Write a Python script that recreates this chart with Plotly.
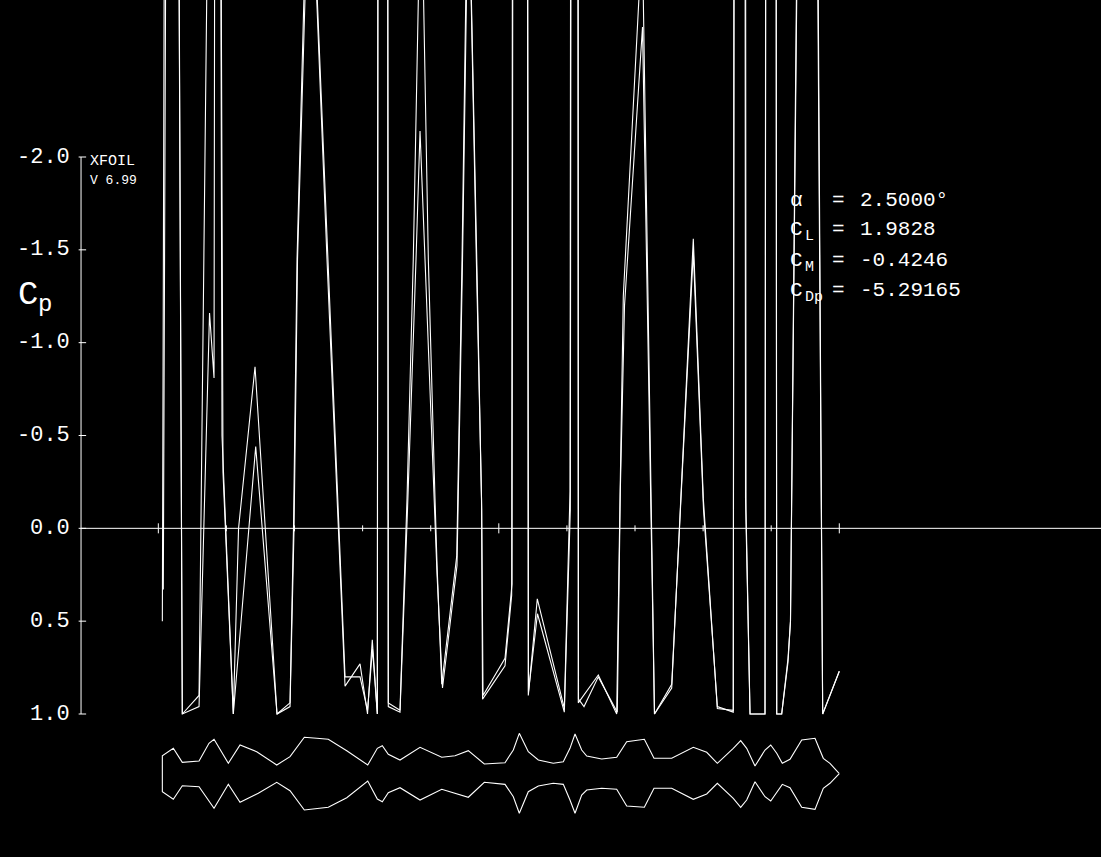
import plotly.graph_objects as go

# ---------------- data ----------------
# Cp distribution, surface 1 (x/c, Cp)
cp1_x = [0.0059, 0.0172, 0.0352, 0.0598, 0.0745, 0.0833, 0.0950, 0.1101, 0.1178, 0.1420,
         0.1743, 0.1934, 0.1985, 0.2037, 0.2213, 0.2477, 0.2742, 0.2962, 0.3072, 0.3142,
         0.3216, 0.3292, 0.3377, 0.3549, 0.3652, 0.3744, 0.3858, 0.3965, 0.4063, 0.4093,
         0.4162, 0.4382, 0.4460, 0.4548, 0.4670, 0.4746, 0.4761, 0.5091, 0.5189, 0.5311,
         0.5433, 0.5565, 0.5962, 0.6046, 0.6126, 0.6167, 0.6461, 0.6731, 0.6780, 0.6828,
         0.7107, 0.7286, 0.7539, 0.7856, 0.8003, 0.8209, 0.8443, 0.8542, 0.8623, 0.8689,
         0.8791, 0.8909, 0.8997, 0.9081, 0.9154, 0.9247, 0.9283, 0.9555, 0.9756, 1.0000]
cp1_v = [0.50, -14, 1.00, 0.90, -4.0, -12, -0.3, 1.00, 0.0, -0.87,
         1.00, 0.94, 0.0, -1.45, -3.9, -1.45, 0.85, 0.73, 1.00, 0.60,
         1.00, -40, 0.94, 0.98, -0.16, -1.45, -3.6, -1.45, -0.16, 0.20,
         0.84, 0.15, -1.45, -3.7, -1.45, -0.16, 0.92, 0.74, 0.36, -40,
         0.90, 0.38, 0.97, -0.2, -30, 0.94, 0.79, 1.00, -0.16, -1.25,
         -3.2, 1.00, 0.86, -1.56, -0.16, 0.97, 0.98, -40, -0.16, 1.00,
         1.00, 1.00, -40, 1.00, 1.00, 0.70, 0.50, -10, 1.00, 0.77]

# Cp distribution, surface 2 (x/c, Cp)
cp2_x = [0.0073, 0.0201, 0.0352, 0.0598, 0.0752, 0.0818, 0.0862, 0.0935, 0.1101, 0.1430,
         0.1743, 0.1934, 0.1993, 0.2044, 0.2228, 0.2485, 0.2742, 0.2962, 0.3072, 0.3145,
         0.3216, 0.3307, 0.3377, 0.3549, 0.3659, 0.3784, 0.3843, 0.3916, 0.4048, 0.4093,
         0.4173, 0.4386, 0.4467, 0.4555, 0.4676, 0.4749, 0.4768, 0.5091, 0.5194, 0.5326,
         0.5436, 0.5568, 0.5962, 0.6050, 0.6141, 0.6170, 0.6251, 0.6461, 0.6740, 0.6784,
         0.6846, 0.7110, 0.7286, 0.7539, 0.7856, 0.8006, 0.8209, 0.8443, 0.8557, 0.8630,
         0.8689, 0.8909, 0.9012, 0.9081, 0.9154, 0.9247, 0.9283, 0.9570, 0.9756, 1.0000]
cp2_v = [0.33, -12, 1.00, 0.96, -1.16, -0.81, -12, -0.5, 1.00, -0.44,
         1.00, 0.96, 0.0, -1.45, -3.8, -1.45, 0.80, 0.80, 0.98, 0.65,
         1.00, -40, 0.96, 0.99, -0.1, -1.45, -2.14, -1.45, -0.1, 0.25,
         0.86, 0.20, -1.45, -3.6, -1.45, -0.1, 0.90, 0.70, 0.30, -40,
         0.88, 0.46, 0.99, -0.1, -30, 0.92, 0.96, 0.80, 0.99, -0.2,
         -1.2, -2.7, 1.00, 0.84, -1.49, -0.1, 0.96, 0.99, -40, -0.1,
         1.00, 1.00, -40, 1.00, 1.00, 0.72, 0.50, -10, 1.00, 0.77]

# airfoil geometry (x/c, y/c), leading edge to trailing edge
upper_x = [0.0059, 0.0220, 0.0352, 0.0598, 0.0744, 0.0818, 0.1028, 0.1200, 0.1445, 0.1739,
           0.1934, 0.2144, 0.2326, 0.2496, 0.2767, 0.3075, 0.3216, 0.3289, 0.3377, 0.3549,
           0.3843, 0.4162, 0.4357, 0.4552, 0.4787, 0.5091, 0.5213, 0.5301, 0.5433, 0.5580,
           0.5800, 0.5947, 0.6045, 0.6119, 0.6217, 0.6291, 0.6511, 0.6731, 0.6878, 0.7137,
           0.7279, 0.7539, 0.7856, 0.8053, 0.8209, 0.8443, 0.8552, 0.8640, 0.8762, 0.8909,
           0.8993, 0.9081, 0.9163, 0.9276, 0.9448, 0.9643, 0.9765, 0.9863, 1.0000]
upper_y = [0.0261, 0.0370, 0.0164, 0.0184, 0.0443, 0.0502, 0.0150, 0.0418, 0.0320, 0.0125,
           0.0247, 0.0532, 0.0517, 0.0502, 0.0335, 0.0125, 0.0370, 0.0408, 0.0282, 0.0198,
           0.0385, 0.0238, 0.0261, 0.0335, 0.0140, 0.0159, 0.0345, 0.0590, 0.0320, 0.0198,
           0.0150, 0.0173, 0.0370, 0.0580, 0.0345, 0.0257, 0.0213, 0.0238, 0.0467, 0.0502,
           0.0223, 0.0223, 0.0385, 0.0311, 0.0150, 0.0370, 0.0482, 0.0370, 0.0110, 0.0345,
           0.0419, 0.0297, 0.0150, 0.0209, 0.0492, 0.0517, 0.0223, 0.0150, 0.0000]
lower_x = [0.0059, 0.0220, 0.0352, 0.0598, 0.0744, 0.0818, 0.1028, 0.1200, 0.1468, 0.1739,
           0.1934, 0.2144, 0.2496, 0.2767, 0.3075, 0.3216, 0.3289, 0.3377, 0.3549, 0.3843,
           0.4162, 0.4552, 0.4787, 0.5091, 0.5213, 0.5301, 0.5433, 0.5580, 0.5800, 0.5947,
           0.6045, 0.6119, 0.6217, 0.6291, 0.6511, 0.6731, 0.6878, 0.7137, 0.7279, 0.7539,
           0.7856, 0.8053, 0.8209, 0.8443, 0.8552, 0.8640, 0.8762, 0.8909, 0.8993, 0.9081,
           0.9163, 0.9276, 0.9448, 0.9643, 0.9765, 0.9863, 1.0000]
lower_y = [-0.0267, -0.0379, -0.0179, -0.0194, -0.0414, -0.0511, -0.0157, -0.0423, -0.0291, -0.0129,
           -0.0253, -0.0536, -0.0496, -0.0355, -0.0110, -0.0374, -0.0414, -0.0282, -0.0209, -0.0389,
           -0.0232, -0.0349, -0.0129, -0.0159, -0.0341, -0.0584, -0.0267, -0.0184, -0.0144, -0.0159,
           -0.0389, -0.0584, -0.0316, -0.0242, -0.0217, -0.0232, -0.0477, -0.0496, -0.0217, -0.0217,
           -0.0379, -0.0301, -0.0144, -0.0364, -0.0496, -0.0389, -0.0120, -0.0341, -0.0404, -0.0282,
           -0.0159, -0.0209, -0.0496, -0.0526, -0.0217, -0.0144, 0.0000]

cp_ticks = [-2.0, -1.5, -1.0, -0.5, 0.0, 0.5, 1.0]
x_ticks = [0.0, 0.1, 0.2, 0.3, 0.4, 0.5, 0.6, 0.7, 0.8, 0.9, 1.0]
x_major = [0.0, 0.5, 1.0]

info_symbols = ["\u03b1", "C", "C", "C"]
info_subs = ["", "L", "M", "Dp"]
info_values = ["2.5000\u00b0", "1.9828", "-0.4246", "-5.29165"]

# ---------------- layout constants ----------------
W, H = 1101, 857
X_RANGE = [-0.2325, 1.3843]
CP_RANGE = [1.7702, -2.8456]
AF_RANGE = [-0.1226, 1.1358]
AXIS_X = -0.1135
FONT = "Liberation Mono"
WHITE = "#ffffff"

fig = go.Figure()

for xs, vs in [(cp1_x, cp1_v), (cp2_x, cp2_v)]:
    fig.add_trace(go.Scatter(x=xs, y=vs, mode="lines",
                             line=dict(color=WHITE, width=1.1),
                             showlegend=False, hoverinfo="skip"))

af_x = upper_x[::-1] + lower_x
af_y = upper_y[::-1] + lower_y
fig.add_trace(go.Scatter(x=af_x, y=af_y, mode="lines", yaxis="y2",
                         line=dict(color=WHITE, width=1.1),
                         showlegend=False, hoverinfo="skip"))

shapes = []
# Cp axis
shapes.append(dict(type="line", xref="x", yref="y", x0=AXIS_X, x1=AXIS_X,
                   y0=cp_ticks[0], y1=cp_ticks[-1], line=dict(color=WHITE, width=1)))
for v in cp_ticks:
    shapes.append(dict(type="line", xref="x", yref="y", x0=AXIS_X - 0.0035, x1=AXIS_X + 0.0075,
                       y0=v, y1=v, line=dict(color=WHITE, width=1)))
# Cp = 0 line
shapes.append(dict(type="line", xref="x", yref="y", x0=AXIS_X, x1=X_RANGE[1],
                   y0=0, y1=0, line=dict(color=WHITE, width=1)))
for t in x_ticks:
    h = 0.027 if t in x_major else 0.016
    shapes.append(dict(type="line", xref="x", yref="y", x0=t, x1=t,
                       y0=-h, y1=h, line=dict(color=WHITE, width=1)))

ann = []
for v in cp_ticks:
    ann.append(dict(x=AXIS_X, y=v, xref="x", yref="y", text=f"{v:.1f}",
                    showarrow=False, xanchor="right", yanchor="middle", xshift=-9,
                    font=dict(family=FONT, size=22, color=WHITE)))
# axis title C_p
ann.append(dict(x=16 / W, y=1 - 295 / H, xref="paper", yref="paper",
                text="C", showarrow=False, xanchor="left", yanchor="middle",
                font=dict(family=FONT, size=34, color=WHITE)))
ann.append(dict(x=36 / W, y=1 - 305 / H, xref="paper", yref="paper",
                text="p", showarrow=False, xanchor="left", yanchor="middle",
                font=dict(family=FONT, size=24, color=WHITE)))
ann.append(dict(x=88 / W, y=1 - 162 / H, xref="paper", yref="paper", text="XFOIL",
                showarrow=False, xanchor="left", yanchor="middle",
                font=dict(family=FONT, size=15, color=WHITE)))
ann.append(dict(x=88 / W, y=1 - 181 / H, xref="paper", yref="paper", text="V 6.99",
                showarrow=False, xanchor="left", yanchor="middle",
                font=dict(family=FONT, size=13, color=WHITE)))

row_y = [200, 230, 260, 290]
for i in range(len(info_values)):
    yy = 1 - row_y[i] / H
    ann.append(dict(x=788 / W, y=yy, xref="paper", yref="paper", text=info_symbols[i],
                    showarrow=False, xanchor="left", yanchor="middle",
                    font=dict(family=FONT, size=21, color=WHITE)))
    if info_subs[i]:
        ann.append(dict(x=803 / W, y=yy, xref="paper", yref="paper", text=info_subs[i],
                        showarrow=False, xanchor="left", yanchor="middle", yshift=-7,
                        font=dict(family=FONT, size=15, color=WHITE)))
    ann.append(dict(x=830 / W, y=yy, xref="paper", yref="paper", text="=",
                    showarrow=False, xanchor="left", yanchor="middle",
                    font=dict(family=FONT, size=21, color=WHITE)))
    ann.append(dict(x=858 / W, y=yy, xref="paper", yref="paper", text=info_values[i],
                    showarrow=False, xanchor="left", yanchor="middle",
                    font=dict(family=FONT, size=21, color=WHITE)))

hidden = dict(showgrid=False, zeroline=False, showticklabels=False, showline=False,
              ticks="", fixedrange=True)
fig.update_layout(
    width=W, height=H, autosize=False,
    margin=dict(l=0, r=0, t=0, b=0, pad=0),
    paper_bgcolor="black", plot_bgcolor="black",
    xaxis=dict(range=X_RANGE, **hidden),
    yaxis=dict(range=CP_RANGE, **hidden),
    yaxis2=dict(range=AF_RANGE, overlaying="y", **hidden),
    shapes=shapes, annotations=ann, showlegend=False,
)

fig.write_html("out.html", config={"displayModeBar": False})
